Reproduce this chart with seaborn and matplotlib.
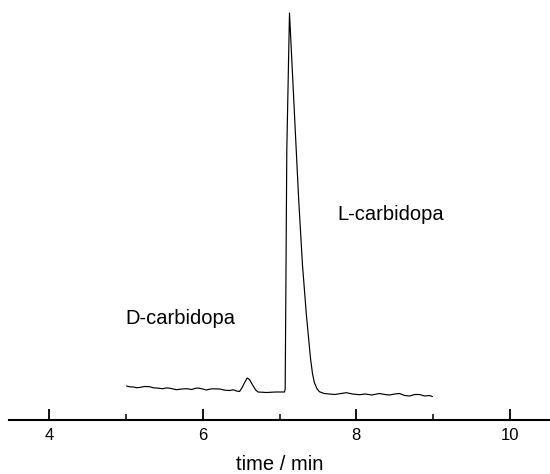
import matplotlib
matplotlib.use("Agg")
import matplotlib.pyplot as plt
import seaborn as sns
import pandas as pd
from matplotlib.ticker import MultipleLocator

# chromatogram trace (time in min, detector signal in a.u.)
time_min = [5.01, 5.05, 5.10, 5.14, 5.18, 5.24, 5.31, 5.36, 5.40, 5.48, 5.53, 5.57,
            5.66, 5.73, 5.79, 5.86, 5.90, 5.94, 6.00, 6.05, 6.09, 6.13, 6.22, 6.29,
            6.35, 6.40, 6.44, 6.48, 6.51, 6.55, 6.58, 6.61, 6.65, 6.69, 6.72, 6.83,
            6.95, 7.065, 7.074, 7.095, 7.13, 7.17, 7.208, 7.25, 7.299, 7.35, 7.403,
            7.43, 7.455, 7.49, 7.519, 7.58, 7.65, 7.72, 7.80, 7.87, 7.95, 8.04, 8.12,
            8.20, 8.30, 8.37, 8.43, 8.50, 8.56, 8.63, 8.69, 8.76, 8.82, 8.89, 8.95,
            8.99]
signal = [34.0, 33.2, 33.0, 32.3, 32.5, 33.5, 33.3, 32.2, 32.0, 31.3, 32.1, 31.8,
          30.3, 31.0, 31.3, 30.5, 31.6, 32.0, 31.0, 30.0, 30.8, 31.2, 31.0, 29.8,
          29.5, 30.2, 29.0, 28.5, 32.0, 38.0, 42.0, 40.5, 35.0, 30.0, 28.0, 27.5,
          28.0, 28.0, 31.0, 270.0, 407.0, 345.0, 285.0, 220.0, 155.0, 105.0, 62.0,
          46.0, 37.0, 31.0, 28.3, 26.5, 26.0, 25.5, 26.5, 27.3, 26.0, 25.3, 26.0,
          25.0, 26.5, 25.5, 25.0, 26.0, 26.5, 24.5, 24.0, 25.5, 25.5, 24.0, 24.5,
          23.5]

peak_names = ["D-carbidopa", "L-carbidopa"]
peak_label_x = [5.71, 8.45]
peak_label_y = [102, 205]

df = pd.DataFrame({"time": time_min, "signal": signal})

sns.set_style("white")
plt.rcParams["font.family"] = ["Liberation Sans", "DejaVu Sans"]
plt.rcParams["text.color"] = "black"
plt.rcParams["axes.labelcolor"] = "black"

fig = plt.figure(figsize=(5.5, 4.74), dpi=100)
ax = fig.add_axes([9 / 550, 54 / 474, 1 - 9 / 550, 1 - 54 / 474])

sns.lineplot(data=df, x="time", y="signal", ax=ax, color="black", linewidth=0.85)

for name, px, py in zip(peak_names, peak_label_x, peak_label_y):
    ax.text(px, py, name, ha="center", va="center", fontsize=14.5, color="black")

ax.set_xlim(3.48, 10.52)
ax.set_ylim(0, 420)
ax.xaxis.set_major_locator(MultipleLocator(2))
ax.xaxis.set_minor_locator(MultipleLocator(1))
ax.set_yticks([])
ax.set_ylabel("")
ax.set_xlabel("time / min", fontsize=14.5, labelpad=8.5, color="black")

for side in ["left", "right", "top"]:
    ax.spines[side].set_visible(False)
ax.spines["bottom"].set_linewidth(1.5)
ax.spines["bottom"].set_color("black")

ax.tick_params(axis="x", which="major", direction="in", length=8, width=1.3,
               labelsize=12, pad=6, bottom=True, colors="black")
ax.tick_params(axis="x", which="minor", direction="in", length=4.5, width=1.1,
               bottom=True, colors="black")
ax.patch.set_alpha(0)

fig.savefig("out.png", dpi=100)
